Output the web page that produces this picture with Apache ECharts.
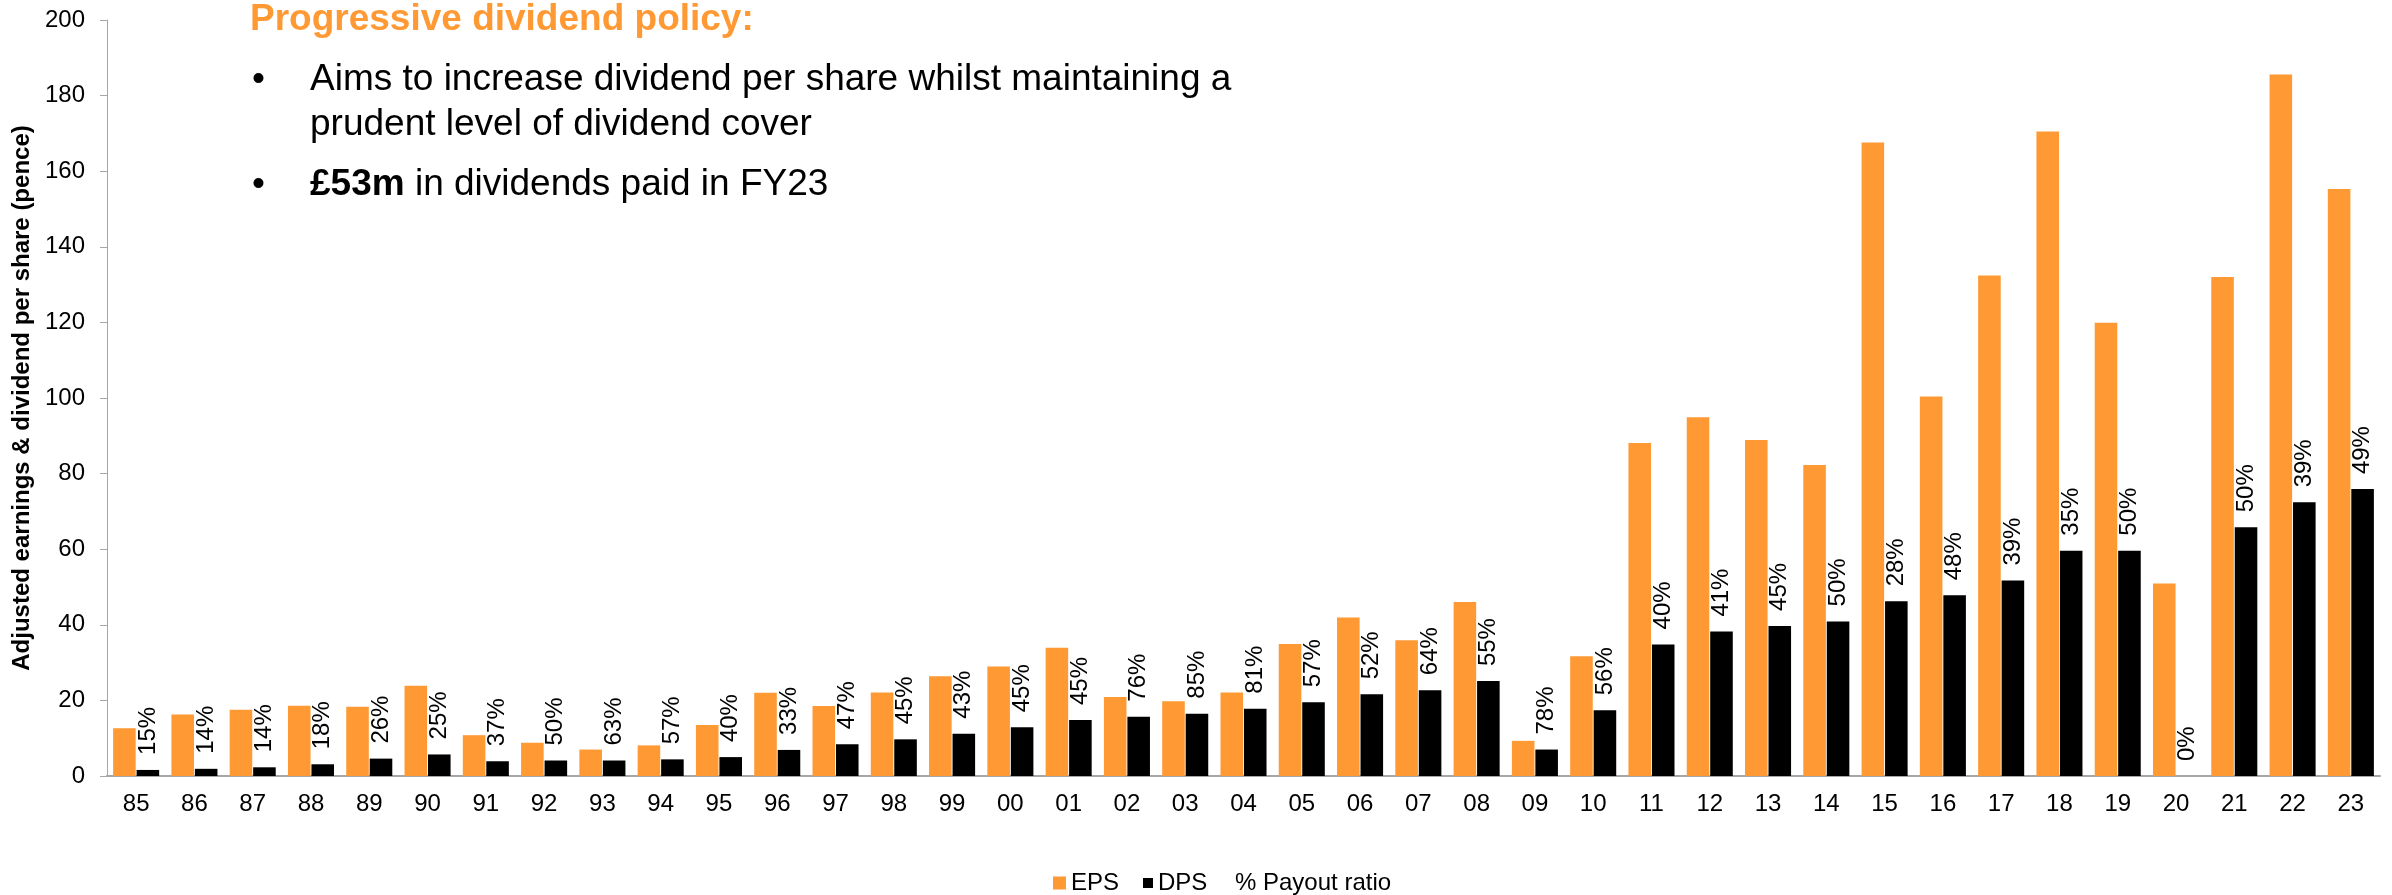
<!DOCTYPE html>
<html>
<head>
<meta charset="utf-8">
<script src="https://cdn.jsdelivr.net/npm/echarts@6/dist/echarts.min.js"></script>
<style>
  html, body { margin: 0; padding: 0; background: #fff; }
  #chart { width: 2392px; height: 895px; }
</style>
</head>
<body>
<div id="chart"></div>
<script>
// financial years (two-digit)
var years = ['85','86','87','88','89','90','91','92','93','94','95','96','97','98','99',
  '00','01','02','03','04','05','06','07','08','09','10','11','12','13','14','15','16',
  '17','18','19','20','21','22','23']

// adjusted earnings per share (pence)
var eps = [12.6, 16.3, 17.5, 18.6, 18.3, 23.9, 10.8, 8.8, 7.0, 8.1, 13.5, 22.0, 18.5, 22.1, 26.4,
  29.0, 33.9, 20.9, 19.8, 22.1, 34.9, 41.9, 35.9, 46.0, 9.3, 31.7, 88.1, 94.9, 88.9, 82.3,
  167.6, 100.4, 132.4, 170.5, 119.9, 50.9, 132.0, 185.6, 155.3]

// dividend per share (pence)
var dps = [1.6, 1.9, 2.3, 3.1, 4.6, 5.7, 3.9, 4.1, 4.1, 4.4, 5.0, 6.9, 8.4, 9.7, 11.2,
  12.9, 14.8, 15.7, 16.5, 17.8, 19.5, 21.6, 22.7, 25.1, 7.0, 17.4, 34.8, 38.2, 39.7, 40.9,
  46.2, 47.8, 51.7, 59.6, 59.6, 0, 65.8, 72.4, 75.9]

// payout ratio (%)
var payout = [15, 14, 14, 18, 26, 25, 37, 50, 63, 57, 40, 33, 47, 45, 43,
  45, 45, 76, 85, 81, 57, 52, 64, 55, 78, 56, 40, 41, 45, 50,
  28, 48, 39, 35, 50, 0, 50, 39, 49]

var orange = '#FF9933'
var font = "'Liberation Sans', Arial, sans-serif"

var myChart = echarts.init(document.getElementById('chart'))

// legend text style, shared by the three legend blocks
var legendText = { fontSize: 24, color: '#000', fontFamily: font }

var option = {
  backgroundColor: '#fff',
  textStyle: { fontFamily: font, color: '#000' },
  animation: false,
  grid: { left: 107, right: 12, top: 20, bottom: 119 },
  legend: [
    { left: 1048, top: 866, itemWidth: 13, itemHeight: 13, textStyle: legendText,
      data: [{ name: 'EPS', icon: 'rect' }] },
    { left: 1138, top: 866, itemWidth: 10, itemHeight: 10, textStyle: legendText,
      data: [{ name: 'DPS', icon: 'rect' }] },
    { left: 1212, top: 866, itemWidth: 13, itemHeight: 13, textStyle: legendText,
      data: [{ name: '% Payout ratio', icon: 'none' }] }
  ],
  xAxis: {
    type: 'category',
    data: years,
    axisLine: { lineStyle: { color: '#A6A6A6', width: 2 } },
    axisTick: { show: false },
    axisLabel: { fontSize: 24, color: '#000', margin: 16, interval: 0 }
  },
  yAxis: {
    type: 'value',
    min: 0,
    max: 200,
    interval: 20,
    name: 'Adjusted earnings & dividend per share (pence)',
    nameLocation: 'middle',
    nameGap: 70,
    nameTextStyle: { fontSize: 24, fontWeight: 'bold', color: '#000' },
    axisLine: { show: true, lineStyle: { color: '#A6A6A6', width: 1 } },
    axisTick: { show: true, length: 7, lineStyle: { color: '#A6A6A6' } },
    axisLabel: { fontSize: 24, color: '#000', margin: 22 },
    splitLine: { show: false }
  },
  series: [
    {
      name: 'EPS',
      type: 'bar',
      data: eps,
      itemStyle: { color: orange },
      barCategoryGap: '21%',
      barGap: '4%'
    },
    {
      name: 'DPS',
      type: 'bar',
      data: dps,
      itemStyle: { color: '#000' },
      barCategoryGap: '21%',
      barGap: '4%',
      label: {
        show: true,
        position: 'top',
        rotate: 90,
        align: 'left',
        verticalAlign: 'middle',
        distance: 15,
        fontSize: 24,
        color: '#000',
        formatter: function (p) { return payout[p.dataIndex] + '%' }
      }
    },
    { name: '% Payout ratio', type: 'line', data: [] }
  ],
  graphic: [
    {
      type: 'text', left: 250, top: -3,
      style: { text: 'Progressive dividend policy:', fontSize: 37, lineHeight: 45, fontWeight: 'bold', fill: orange, fontFamily: font }
    },
    {
      type: 'text', left: 252, top: 57,
      style: { text: '•', fontSize: 37, lineHeight: 45, fill: '#000', fontFamily: font }
    },
    {
      type: 'text', left: 310, top: 57,
      style: {
        text: 'Aims to increase dividend per share whilst maintaining a\nprudent level of dividend cover',
        fontSize: 37, lineHeight: 45, fill: '#000', fontFamily: font
      }
    },
    {
      type: 'text', left: 252, top: 162,
      style: { text: '•', fontSize: 37, lineHeight: 45, fill: '#000', fontFamily: font }
    },
    {
      type: 'text', left: 310, top: 162,
      style: {
        text: '{b|£53m} in dividends paid in FY23',
        fontSize: 37, lineHeight: 45, fill: '#000', fontFamily: font,
        rich: { b: { fontSize: 37, lineHeight: 45, fontWeight: 'bold', fill: '#000', fontFamily: font } }
      }
    }
  ]
}

myChart.setOption(option)
</script>
</body>
</html>
